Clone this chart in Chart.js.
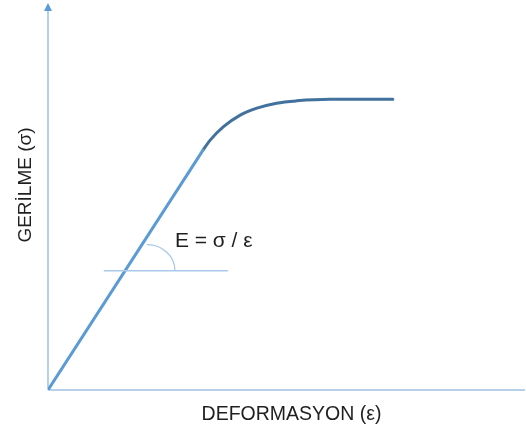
<!DOCTYPE html>
<html><head><meta charset="utf-8">
<script src="https://cdn.jsdelivr.net/npm/chart.js@4.4.1/dist/chart.umd.min.js"></script>
<style>html,body{margin:0;padding:0;background:#fff}#w{width:526px;height:427px}</style>
</head><body><div id="w"><canvas id="c" width="526" height="427"></canvas></div>
<script>
// Elastic (linear) region: strain, stress
const elasticStrain = [0, 32.5];
const elasticStress = [0, 62.3];
// Plastic region (curve to plateau)
const plasticStrain = [32.5, 34.0, 36.8, 40.3, 43.8, 47.9, 52.1, 59.1, 72.3];
const plasticStress = [62.3, 64.9, 68.4, 71.4, 73.2, 74.5, 75.1, 75.5, 75.5];
// Horizontal reference line for the slope angle
const refStrain = [11.7, 37.7];
const refStress = [31.0, 31.0];
const xLabel = 'DEFORMASYON (\u03B5)';
const yLabel = 'GER\u0130LME (\u03C3)';
const formula = 'E = \u03C3 / \u03B5';
const formulaAt = {x: 26.6, y: 37.1};
const arcCenter = {x: 20.75, y: 31.0};

const toPts = (xs, ys) => xs.map((x, i) => ({x, y: ys[i]}));

const deco = {
  id: 'deco',
  beforeDatasetsDraw(chart) {
    const {ctx, chartArea: a, scales: {x, y}} = chart;
    ctx.save();
    ctx.strokeStyle = '#b7d0ec';
    ctx.lineWidth = 2;
    ctx.beginPath();
    ctx.moveTo(a.left, a.bottom);
    ctx.lineTo(a.left, a.top + 5);
    ctx.moveTo(a.left, a.bottom);
    ctx.lineTo(a.right, a.bottom);
    ctx.stroke();
    ctx.fillStyle = '#5b9bd5';
    ctx.beginPath();
    ctx.moveTo(a.left, a.top - 2);
    ctx.lineTo(a.left - 4, a.top + 6);
    ctx.lineTo(a.left + 4, a.top + 6);
    ctx.closePath();
    ctx.fill();
    const cx = x.getPixelForValue(arcCenter.x), cy = y.getPixelForValue(arcCenter.y);
    ctx.strokeStyle = '#a9c9ea';
    ctx.lineWidth = 1.3;
    ctx.beginPath();
    ctx.ellipse(cx, cy, 28, 26, 0, -Math.PI / 2, 0);
    ctx.stroke();
    ctx.restore();
  },
  afterDraw(chart) {
    const {ctx, chartArea: a, scales: {x, y}} = chart;
    ctx.save();
    ctx.fillStyle = '#1f1f1f';
    ctx.font = '21px "Liberation Sans", Arial, sans-serif';
    ctx.textBaseline = 'alphabetic';
    ctx.textAlign = 'left';
    ctx.fillText(formula, x.getPixelForValue(formulaAt.x), y.getPixelForValue(formulaAt.y));
    ctx.font = '19.5px "Liberation Sans", Arial, sans-serif';
    ctx.textAlign = 'center';
    ctx.fillText(xLabel, (a.left + a.right) / 2 + 5, a.bottom + 30);
    ctx.translate(a.left - 17.5, (a.top + a.bottom) / 2 - 12.5);
    ctx.rotate(-Math.PI / 2);
    ctx.font = '19px "Liberation Sans", Arial, sans-serif';
    ctx.fillText(yLabel, 0, 0);
    ctx.restore();
  }
};

new Chart(document.getElementById('c'), {
  type: 'line',
  data: {
    datasets: [
      {data: toPts(refStrain, refStress), borderColor: '#a9c9ea', borderWidth: 1.5, pointRadius: 0, tension: 0},
      {data: toPts(elasticStrain, elasticStress), borderColor: '#5b9bd5', borderWidth: 3, pointRadius: 0, tension: 0, borderCapStyle: 'round'},
      {data: toPts(plasticStrain, plasticStress), borderColor: '#41719c', borderWidth: 3, pointRadius: 0, cubicInterpolationMode: 'monotone', borderCapStyle: 'round'}
    ]
  },
  options: {
    responsive: false,
    animation: false,
    events: [],
    layout: {padding: {left: 48, right: 1, top: 5, bottom: 37}},
    plugins: {legend: {display: false}, tooltip: {enabled: false}},
    scales: {
      x: {type: 'linear', display: false, min: 0, max: 100},
      y: {type: 'linear', display: false, min: 0, max: 100}
    }
  },
  plugins: [deco]
});
</script></body></html>
